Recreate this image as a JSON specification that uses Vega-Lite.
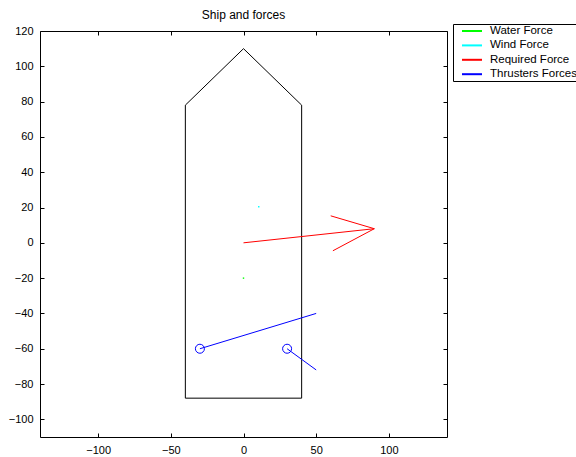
{
  "$schema": "https://vega.github.io/schema/vega-lite/v6.json",
  "width": 407,
  "height": 406,
  "autosize": {"type": "none"},
  "padding": {"left": 40, "top": 31, "right": 129, "bottom": 20},
  "background": "white",
  "config": {
    "font": "Liberation Sans",
    "view": {"stroke": null},
    "axis": {
      "grid": false,
      "domainColor": "black",
      "domainWidth": 1,
      "tickColor": "black",
      "tickWidth": 1,
      "tickSize": -4,
      "labelColor": "black",
      "labelFont": "Liberation Sans",
      "labelFontSize": 11,
      "labelOverlap": false,
      "labelFlush": false,
      "title": null
    }
  },
  "title": {
    "text": "Ship and forces",
    "font": "Liberation Sans",
    "fontSize": 12,
    "fontWeight": "normal",
    "color": "black",
    "offset": 2,
    "anchor": "middle"
  },
  "datasets": {
    "ship": [
      {"ord": 1, "x": -40, "y": -88},
      {"ord": 2, "x": -40, "y": 78},
      {"ord": 3, "x": 0, "y": 110},
      {"ord": 4, "x": 40, "y": 78},
      {"ord": 5, "x": 40, "y": -88},
      {"ord": 6, "x": -40, "y": -88}
    ],
    "forces": [
      {"seg": "r1", "series": "Required Force", "ord": 1, "x": 0, "y": 0},
      {"seg": "r1", "series": "Required Force", "ord": 2, "x": 90, "y": 8},
      {"seg": "r2", "series": "Required Force", "ord": 1, "x": 60, "y": 15.3},
      {"seg": "r2", "series": "Required Force", "ord": 2, "x": 90, "y": 8},
      {"seg": "r2", "series": "Required Force", "ord": 3, "x": 61.5, "y": -4.5},
      {"seg": "t1", "series": "Thrusters Forces", "ord": 1, "x": -30, "y": -60},
      {"seg": "t1", "series": "Thrusters Forces", "ord": 2, "x": 50, "y": -40},
      {"seg": "t2", "series": "Thrusters Forces", "ord": 1, "x": 30, "y": -60},
      {"seg": "t2", "series": "Thrusters Forces", "ord": 2, "x": 50, "y": -72}
    ],
    "thrusters": [
      {"series": "Thrusters Forces", "x": -30, "y": -60},
      {"series": "Thrusters Forces", "x": 30, "y": -60}
    ],
    "dots": [
      {"series": "Water Force", "x": 0, "y": -20},
      {"series": "Wind Force", "x": 10.5, "y": 20.4}
    ],
    "frame": [
      {"x": -140, "y": -110},
      {"x": 140, "y": 120}
    ]
  },
  "resolve": {"scale": {"x": "independent", "y": "independent"}},
  "layer": [
    {
      "layer": [
        {
          "data": {"name": "ship"},
          "mark": {"type": "line", "color": "black", "strokeWidth": 1},
          "encoding": {
            "x": {"field": "x", "type": "quantitative", "scale": {"domain": [-140, 140], "nice": false, "zero": false},
                  "axis": {"values": [-100, -50, 0, 50, 100], "tickCount": 30, "labelPadding": 11}},
            "y": {"field": "y", "type": "quantitative", "scale": {"domain": [-110, 120], "nice": false, "zero": false},
                  "axis": {"values": [-100, -80, -60, -40, -20, 0, 20, 40, 60, 80, 100, 120], "tickCount": 30, "labelPadding": 11}},
            "order": {"field": "ord", "type": "quantitative"}
          }
        },
        {
          "data": {"name": "forces"},
          "mark": {"type": "line", "strokeWidth": 1},
          "encoding": {
            "x": {"field": "x", "type": "quantitative"},
            "y": {"field": "y", "type": "quantitative"},
            "detail": {"field": "seg"},
            "order": {"field": "ord", "type": "quantitative"},
            "color": {
              "field": "series", "type": "nominal",
              "scale": {"domain": ["Water Force", "Wind Force", "Required Force", "Thrusters Forces"],
                        "range": ["#00ff00", "#00ffff", "#ff0000", "#0000ff"]},
              "legend": {
                "orient": "none", "legendX": 413, "legendY": -7,
                "title": null,
                "symbolType": "M-2,0H2", "symbolSize": 100, "symbolStrokeWidth": 2,
                "labelFont": "Liberation Sans", "labelFontSize": 11.5, "labelColor": "black",
                "labelOffset": 12, "rowPadding": 2.4,
                "strokeColor": "black", "fillColor": "white", "padding": 1,
                "symbolOffset": 12
              }
            }
          }
        },
        {
          "data": {"name": "thrusters"},
          "mark": {"type": "point", "shape": "circle", "filled": false, "size": 81, "strokeWidth": 1, "opacity": 1},
          "encoding": {
            "x": {"field": "x", "type": "quantitative"},
            "y": {"field": "y", "type": "quantitative"},
            "color": {"field": "series", "type": "nominal"}
          }
        },
        {
          "data": {"name": "dots"},
          "mark": {"type": "point", "shape": "square", "filled": true, "size": 2, "opacity": 1},
          "encoding": {
            "x": {"field": "x", "type": "quantitative"},
            "y": {"field": "y", "type": "quantitative"},
            "color": {"field": "series", "type": "nominal"}
          }
        }
      ]
    },
    {
      "data": {"name": "frame"},
      "mark": {"type": "point", "opacity": 0},
      "encoding": {
        "x": {"field": "x", "type": "quantitative", "scale": {"domain": [-140, 140], "nice": false, "zero": false},
              "axis": {"orient": "top", "values": [-100, -50, 0, 50, 100], "tickCount": 30, "labels": false}},
        "y": {"field": "y", "type": "quantitative", "scale": {"domain": [-110, 120], "nice": false, "zero": false},
              "axis": {"orient": "right", "values": [-100, -80, -60, -40, -20, 0, 20, 40, 60, 80, 100, 120], "tickCount": 30, "labels": false}}
      }
    }
  ]
}
